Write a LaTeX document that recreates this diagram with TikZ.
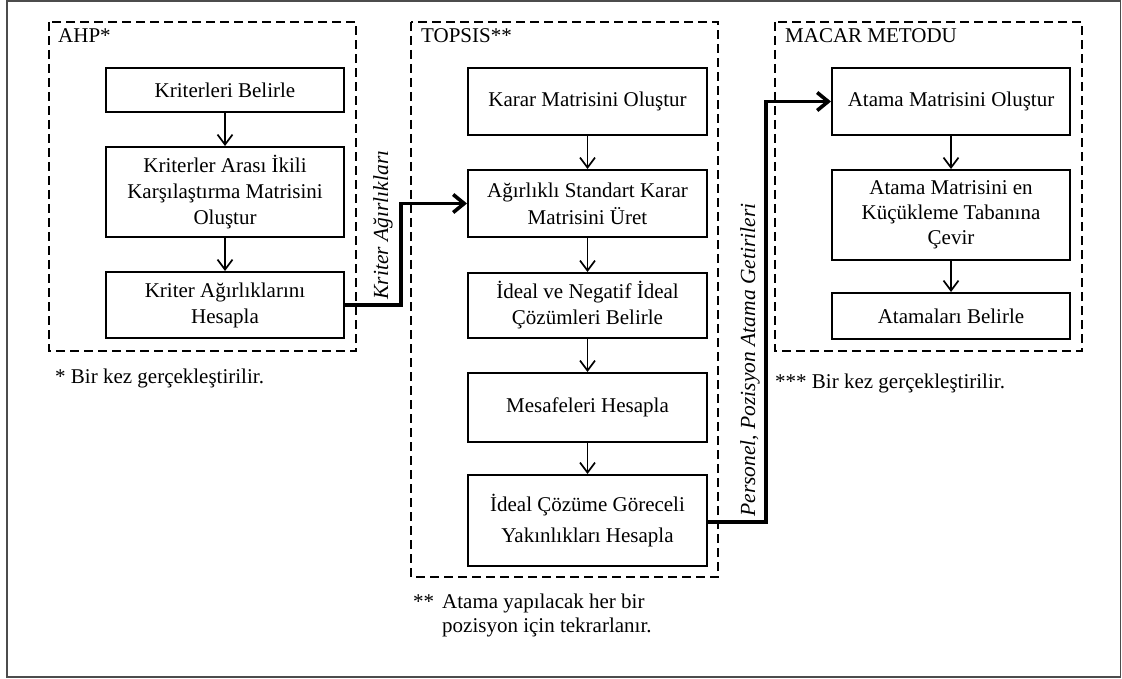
\documentclass[tikz,border=0pt]{standalone}
\usepackage{fontspec}
\setmainfont{Liberation Serif}
\usetikzlibrary{arrows.meta,calc}
\begin{document}
\begin{tikzpicture}[x=1pt,y=-1pt,
  stepbox/.style={draw=black,line width=2pt,align=center,inner sep=2pt,
    font=\fontsize{21}{26}\selectfont},
  group/.style={draw=black,line width=2pt,dash pattern=on 9pt off 5pt},
  flow/.style={line width=1.7pt,-{Straight Barb[length=10pt,width=15pt,line width=1.7pt]}},
  bigflow/.style={line width=3.6pt,-{Straight Barb[length=11pt,width=18pt,line width=3.6pt]}},
  txt/.style={font=\fontsize{21}{25}\selectfont,inner sep=0pt},
  lbl/.style={font=\fontsize{21.5}{25}\selectfont\itshape,inner sep=0pt,rotate=90}]
\useasboundingbox (0,0) rectangle (1122,679);
\draw[line width=1.6pt,draw=black!70] (7,1) rectangle (1120.5,677);

% group frames
\draw[group] (49,22) rectangle (356,351);
\draw[group] (411,22) rectangle (718,577);
\draw[group] (775,22) rectangle (1082,351);
\node[txt,anchor=base west] (hA) at (58,43) {AHP*};
\node[txt,anchor=base west] (hT) at (421,43) {TOPSIS**};
\node[txt,anchor=base west] (hM) at (785,43) {MACAR METODU};

% AHP
\node[stepbox,minimum width=238,minimum height=44] (B1) at (225,90) {Kriterleri Belirle};
\node[stepbox,minimum width=238,minimum height=90] (B2) at (225,192) {Kriterler Arası İkili\\Karşılaştırma Matrisini\\Oluştur};
\node[stepbox,minimum width=238,minimum height=66] (B3) at (225,305) {Kriter Ağırlıklarını\\Hesapla};

% TOPSIS
\node[stepbox,minimum width=239,minimum height=67] (T1) at (587.5,101.5) {Karar Matrisini Oluştur};
\node[stepbox,minimum width=239,minimum height=67,font=\fontsize{21}{27}\selectfont] (T2) at (587.5,203.5) {Ağırlıklı Standart Karar\\Matrisini Üret};
\node[stepbox,minimum width=239,minimum height=65] (T3) at (587.5,305.5) {İdeal ve Negatif İdeal\\Çözümleri Belirle};
\node[stepbox,minimum width=239,minimum height=69] (T4) at (587.5,407.5) {Mesafeleri Hesapla};
\node[stepbox,minimum width=239,minimum height=91,font=\fontsize{21}{31}\selectfont] (T5) at (587.5,520.5) {İdeal Çözüme Göreceli\\Yakınlıkları Hesapla};

% MACAR
\node[stepbox,minimum width=238,minimum height=67] (M1) at (951,101.5) {Atama Matrisini Oluştur};
\node[stepbox,minimum width=238,minimum height=90,font=\fontsize{21}{25}\selectfont] (M2) at (951,215) {Atama Matrisini en\\Küçükleme Tabanına\\Çevir};
\node[stepbox,minimum width=238,minimum height=46] (M3) at (951,316) {Atamaları Belirle};

% inner arrows
\draw[flow] (B1) -- (B2);
\draw[flow] (B2) -- (B3);
\draw[flow] (T1) -- (T2);
\draw[flow] (T2) -- (T3);
\draw[flow] (T3) -- (T4);
\draw[flow] (T4) -- (T5);
\draw[flow] (M1) -- (M2);
\draw[flow] (M2) -- (M3);

% cross connectors
\coordinate (j1) at (401,0);
\coordinate (j2) at (766,0);
\draw[bigflow] (B3.east) -- (B3.east -| j1) |- (T2.west);
\draw[bigflow] ($(T5.east)+(0,1.5)$) -- ($(T5.east -| j2)+(0,1.5)$) |- (M1.west);

\node[lbl] (L1) at (383,225) {Kriter Ağırlıkları};
\node[lbl] (L2) at (750,360) {Personel, Pozisyon Atama Getirileri};

% footnotes
\node[txt,anchor=base west] (f1) at (55,383) {* Bir kez gerçekleştirilir.};
\node[txt,anchor=base west] (f2a) at (413,608) {**};
\node[txt,anchor=base west] (f2b) at (442,608) {Atama yapılacak her bir};
\node[txt,anchor=base west] (f2c) at (442,632) {pozisyon için tekrarlanır.};
\node[txt,anchor=base west] (f3) at (775,388) {*** Bir kez gerçekleştirilir.};
\end{tikzpicture}
\end{document}
